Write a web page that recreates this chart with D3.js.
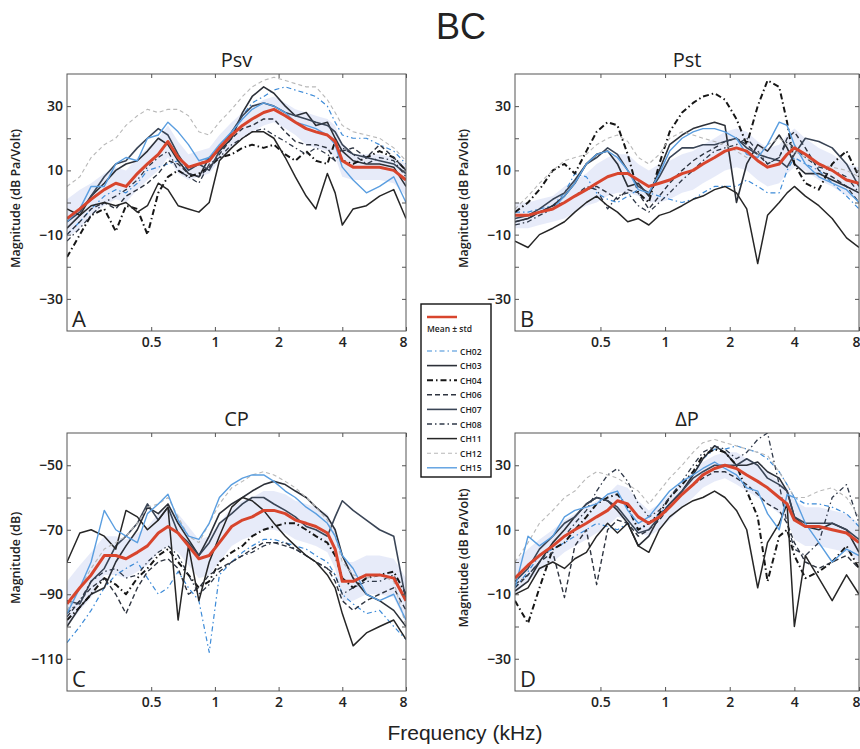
<!DOCTYPE html>
<html>
<head>
<meta charset="utf-8">
<script src="https://cdn.jsdelivr.net/npm/d3@7"></script>
<style>
  body { margin: 0; background: #fff; }
  svg { display: block; }
  text { font-family: "Open Sans", "DejaVu Sans", sans-serif; fill: #222; }
</style>
</head>
<body>
<svg id="chart" width="860" height="749"></svg>
<script>
// frequency grid (kHz)
const freqs = [0.2,0.23,0.26,0.3,0.34,0.38,0.43,0.48,0.54,0.6,0.67,0.75,0.84,0.94,1.05,1.2,1.35,1.5,1.7,1.9,2.15,2.4,2.7,3.0,3.4,3.7,4.0,4.5,5.2,6.0,7.0,8.0];
const xTicks = [0.5, 1, 2, 4, 8];
const channels = ['CH02','CH03','CH04','CH06','CH07','CH08','CH11','CH12','CH15'];

// A: Psv
const A_mean = [-5,-2,1,4,6,5,9,12,15,19,14,11,12,13,17,21,24,26,28,29,27,25,23,22,21,19,13,11,11,11,10,7];
const A_std  = [6,6,5,5,5,5,5,5,5,5,5,4,4,4,4,4,4,4,4,4,4,4,5,5,5,5,5,4,4,4,4,5];
const A_CH02 = [-10,-6,-2,2,4,3,6,10,11,12,13,10,12,14,17,22,27,31,33,35,36,35,34,33,30,25,21,20,20,18,16,12];
const A_CH03 = [-8,-4,2,6,10,12,13,16,20,18,13,9,8,14,16,20,28,33,36,34,30,27,28,24,25,20,16,13,12,12,11,5];
const A_CH04 = [-17,-10,-4,-2,-9,-1,-2,-10,3,8,10,8,9,11,14,15,17,18,17,18,15,13,16,13,12,19,13,12,14,16,14,10];
const A_CH06 = [-10,-6,-2,0,-2,2,4,6,9,13,12,9,8,11,15,20,23,24,26,26,22,19,18,18,17,13,16,17,14,18,14,10];
const A_CH07 = [-6,-3,2,8,12,13,17,20,23,21,15,10,12,10,16,22,27,30,31,30,28,27,26,25,24,22,18,15,14,13,12,9];
const A_CH08 = [-12,-8,-4,0,2,4,7,11,14,16,10,8,6,12,14,18,20,22,23,21,19,17,15,17,15,13,17,15,12,14,13,8];
const A_CH11 = [-2,-4,-1,0,-1,0,-3,-1,6,4,-1,-2,-3,0,13,17,20,22,22,20,14,8,2,-2,9,3,-7,-2,-1,2,4,-5];
const A_CH12 = [5,8,14,18,20,24,27,29,28,29,29,27,22,21,25,29,33,36,38,39,38,37,36,36,32,28,24,22,21,20,17,13];
const A_CH15 = [-6,-2,5,5,12,14,13,20,21,25,22,18,13,14,18,22,26,29,31,30,28,25,24,23,21,18,11,7,3,5,8,0];

// B: Pst
const B_mean = [-4,-4,-3,-2,0,2,4,6,8,9,9,7,5,6,7,9,10,12,14,16,17,16,13,11,12,15,17,15,12,10,7,6];
const B_std  = [4,4,4,4,5,5,5,6,6,6,6,5,5,6,6,6,6,6,6,6,6,6,6,6,6,6,6,5,5,5,5,5];
const B_CH02 = [-3,-3,-2,-1,3,9,8,3,1,0,2,4,3,2,1,0,1,3,5,5,5,7,5,3,3,10,14,12,10,6,2,-2];
const B_CH03 = [-6,-5,-3,-1,2,6,12,15,16,12,5,6,2,10,18,21,23,24,25,24,0,12,18,16,21,17,12,9,9,7,5,3];
const B_CH04 = [-3,0,4,10,12,9,16,22,25,24,15,3,0,12,22,28,31,33,34,32,26,18,30,38,36,25,12,6,4,12,16,8];
const B_CH06 = [-6,-5,-3,-1,0,2,4,5,3,1,4,3,-2,2,6,10,13,15,17,19,20,18,15,12,14,20,22,17,10,8,5,0];
const B_CH07 = [-5,-4,-2,1,3,7,12,14,17,15,10,5,3,8,14,17,17,18,18,19,20,17,15,14,13,11,15,20,19,17,12,5];
const B_CH08 = [-7,-6,-4,-2,0,2,5,4,-2,2,3,-1,-3,0,3,7,10,13,16,17,18,20,16,12,14,19,17,14,11,10,8,3];
const B_CH11 = [-12,-14,-10,-8,-6,-3,0,2,-1,-3,-6,-5,-7,-4,-3,-1,1,2,4,5,3,-2,-19,-4,0,3,5,2,-1,-5,-11,-14];
const B_CH12 = [-2,2,6,10,13,14,15,18,20,21,19,14,12,15,20,22,21,20,19,18,16,14,15,18,20,18,16,14,12,11,10,8];
const B_CH15 = [-4,-4,-3,-2,2,6,12,15,16,14,10,4,3,9,16,20,22,23,23,22,20,15,14,18,25,24,18,12,8,6,4,0];

// C: CP
const C_mean = [-93,-88,-84,-78,-78,-79,-77,-75,-71,-69,-71,-75,-79,-78,-74,-69,-67,-66,-64,-64,-65,-67,-68,-69,-71,-76,-86,-86,-84,-84,-85,-92];
const C_std  = [7,7,7,6,6,6,6,6,6,6,6,6,6,6,6,6,6,6,6,6,6,6,6,6,6,6,6,6,6,6,6,7];
const C_CH02 = [-105,-100,-95,-88,-84,-82,-80,-85,-90,-88,-83,-88,-92,-108,-84,-80,-77,-75,-73,-73,-74,-75,-76,-78,-80,-84,-90,-93,-96,-95,-100,-104];
const C_CH03 = [-100,-94,-90,-88,-80,-75,-70,-63,-65,-62,-68,-73,-78,-72,-65,-62,-60,-58,-56,-55,-56,-58,-60,-63,-66,-70,-78,-85,-90,-92,-95,-100];
const C_CH04 = [-98,-94,-90,-85,-87,-90,-85,-82,-78,-76,-80,-84,-88,-86,-80,-77,-75,-72,-70,-69,-68,-68,-70,-72,-74,-78,-85,-88,-85,-84,-83,-90];
const C_CH06 = [-97,-92,-88,-85,-90,-96,-88,-83,-80,-79,-82,-90,-88,-84,-82,-80,-78,-76,-74,-74,-75,-76,-78,-80,-82,-86,-92,-95,-92,-90,-88,-95];
const C_CH07 = [-92,-93,-86,-82,-75,-72,-68,-62,-67,-63,-71,-74,-78,-74,-68,-65,-62,-60,-60,-62,-64,-66,-69,-70,-72,-66,-61,-64,-67,-70,-72,-92];
const C_CH08 = [-96,-92,-86,-83,-82,-85,-84,-80,-77,-75,-78,-84,-90,-87,-83,-80,-78,-77,-75,-74,-74,-76,-78,-80,-82,-84,-90,-88,-86,-86,-84,-92];
const C_CH11 = [-80,-71,-70,-72,-76,-64,-66,-70,-67,-63,-98,-75,-92,-80,-72,-63,-60,-61,-64,-68,-72,-75,-78,-80,-84,-88,-96,-106,-102,-100,-98,-104];
const C_CH12 = [-95,-88,-82,-76,-74,-72,-68,-63,-62,-60,-66,-72,-74,-68,-62,-57,-55,-53,-52,-53,-55,-57,-60,-63,-67,-72,-80,-84,-85,-84,-86,-100];
const C_CH15 = [-96,-88,-80,-64,-70,-72,-74,-65,-62,-59,-67,-72,-73,-68,-60,-56,-54,-53,-53,-55,-58,-60,-63,-65,-68,-72,-78,-82,-90,-92,-90,-98];

// D: ΔP
const D_mean = [-5,-1,2,5,8,10,12,14,16,19,18,14,12,14,17,21,24,27,29,30,29,27,25,23,20,18,13,11,11,10,9,6];
const D_std  = [5,5,5,5,5,5,5,5,5,5,5,5,4,4,4,4,4,4,4,4,5,5,5,5,5,5,6,6,6,6,6,6];
const D_CH02 = [-8,-3,2,4,6,8,10,12,11,10,12,10,12,15,18,22,27,32,35,35,36,35,34,32,28,24,20,18,18,17,15,11];
const D_CH03 = [-9,-6,0,6,10,14,18,20,19,16,12,5,8,14,18,22,27,32,36,34,30,30,31,28,26,22,14,11,10,12,10,3];
const D_CH04 = [-12,-19,-8,4,6,10,14,18,20,21,17,10,12,15,20,24,28,33,35,34,30,22,14,-6,8,10,2,-5,-3,0,5,-2];
const D_CH06 = [-8,-4,0,3,-11,5,10,-7,10,13,12,8,10,13,17,21,24,26,28,28,26,24,21,18,16,12,6,0,-2,0,2,-2];
const D_CH07 = [-6,-2,4,8,12,14,18,20,19,17,13,9,10,14,18,22,26,28,30,30,30,32,30,26,24,22,14,12,12,12,10,7];
const D_CH08 = [-7,-4,0,5,8,12,16,22,27,29,25,18,14,16,20,25,30,34,36,35,32,34,38,40,24,12,4,2,6,20,24,12];
const D_CH11 = [-10,-8,-2,0,-2,1,3,8,12,9,12,5,3,10,14,17,19,20,22,20,16,10,-8,6,12,18,-20,2,-5,-12,-4,-10];
const D_CH12 = [0,6,12,16,20,22,26,28,27,26,24,22,18,22,26,30,34,37,38,37,36,35,34,33,28,24,20,20,22,23,20,14];
const D_CH15 = [-8,8,5,8,14,16,17,18,21,22,16,12,14,18,22,25,27,29,31,29,27,23,22,15,10,21,20,12,6,0,4,2];

const styles = {
  CH02: { color: '#3d8bd8', width: 1.2, dash: '5,3,1.5,3' },
  CH03: { color: '#2c3038', width: 1.6, dash: null },
  CH04: { color: '#161616', width: 2.0, dash: '6,3,1.5,3' },
  CH06: { color: '#2e3440', width: 1.4, dash: '5,3' },
  CH07: { color: '#3a4556', width: 1.6, dash: null },
  CH08: { color: '#2f3848', width: 1.3, dash: '5,3,1.5,3' },
  CH11: { color: '#262626', width: 1.5, dash: null },
  CH12: { color: '#b8b8b8', width: 1.1, dash: '4,3' },
  CH15: { color: '#5a9ee0', width: 1.4, dash: null }
};

const panels = [
  { title: 'Psv', letter: 'A', ylabel: 'Magnitude (dB Pa/Volt)', x0: 67, x1: 406, y0: 74, y1: 331,
    yDomain: [-40, 40], yTicks: [-30,-20,-10,0,10,20,30], yLabels: [-30,-10,10,30],
    mean: A_mean, std: A_std, series: [A_CH02,A_CH03,A_CH04,A_CH06,A_CH07,A_CH08,A_CH11,A_CH12,A_CH15] },
  { title: 'Pst', letter: 'B', ylabel: 'Magnitude (dB Pa/Volt)', x0: 515, x1: 859, y0: 74, y1: 331,
    yDomain: [-40, 40], yTicks: [-30,-20,-10,0,10,20,30], yLabels: [-30,-10,10,30],
    mean: B_mean, std: B_std, series: [B_CH02,B_CH03,B_CH04,B_CH06,B_CH07,B_CH08,B_CH11,B_CH12,B_CH15] },
  { title: 'CP', letter: 'C', ylabel: 'Magnitude (dB)', x0: 67, x1: 406, y0: 433, y1: 691,
    yDomain: [-120, -40], yTicks: [-110,-100,-90,-80,-70,-60,-50], yLabels: [-110,-90,-70,-50],
    mean: C_mean, std: C_std, series: [C_CH02,C_CH03,C_CH04,C_CH06,C_CH07,C_CH08,C_CH11,C_CH12,C_CH15] },
  { title: 'ΔP', letter: 'D', ylabel: 'Magnitude (dB Pa/Volt)', x0: 515, x1: 859, y0: 433, y1: 691,
    yDomain: [-40, 40], yTicks: [-30,-20,-10,0,10,20,30], yLabels: [-30,-10,10,30],
    mean: D_mean, std: D_std, series: [D_CH02,D_CH03,D_CH04,D_CH06,D_CH07,D_CH08,D_CH11,D_CH12,D_CH15] }
];

const svg = d3.select('#chart');
const fmt = d3.format('');

panels.forEach((p, pi) => {
  const x = d3.scaleLog().domain([0.2, 8]).range([p.x0, p.x1]);
  const y = d3.scaleLinear().domain(p.yDomain).range([p.y1, p.y0]);
  const g = svg.append('g');

  g.append('clipPath').attr('id', 'clip' + pi)
    .append('rect').attr('x', p.x0).attr('y', p.y0).attr('width', p.x1 - p.x0).attr('height', p.y1 - p.y0);
  const plot = g.append('g').attr('clip-path', `url(#clip${pi})`);

  const band = d3.area()
    .x((d, i) => x(freqs[i]))
    .y0((d, i) => y(p.mean[i] - p.std[i]))
    .y1((d, i) => y(p.mean[i] + p.std[i]));
  plot.append('path').datum(p.mean).attr('d', band)
    .attr('fill', '#e1e6f7').attr('opacity', 0.8);

  const line = d3.line().x((d, i) => x(freqs[i])).y(d => y(d));
  p.series.forEach((vals, k) => {
    const s = styles[channels[k]];
    plot.append('path').datum(vals).attr('d', line)
      .attr('fill', 'none').attr('stroke', s.color).attr('stroke-width', s.width)
      .attr('stroke-dasharray', s.dash).attr('stroke-linejoin', 'round');
  });
  plot.append('path').datum(p.mean).attr('d', line)
    .attr('fill', 'none').attr('stroke', '#d8452d').attr('stroke-width', 3).attr('stroke-linejoin', 'round');

  // axes: ticks pointing inward on all four sides
  const bottom = g.append('g').attr('transform', `translate(0,${p.y1})`)
    .call(d3.axisBottom(x).tickValues(xTicks).tickFormat(d3.format('~g')).tickSizeInner(-4).tickSizeOuter(0).tickPadding(6));
  g.append('g').attr('transform', `translate(0,${p.y0})`)
    .call(d3.axisTop(x).tickValues(xTicks).tickFormat('').tickSizeInner(-4).tickSizeOuter(0));
  const left = g.append('g').attr('transform', `translate(${p.x0},0)`)
    .call(d3.axisLeft(y).tickValues(p.yTicks).tickFormat(d => p.yLabels.includes(d) ? fmt(d) : '').tickSizeInner(-4).tickSizeOuter(0).tickPadding(4));
  g.append('g').attr('transform', `translate(${p.x1},0)`)
    .call(d3.axisRight(y).tickValues(p.yTicks).tickFormat('').tickSizeInner(-4).tickSizeOuter(0));
  g.selectAll('.domain').remove();
  g.selectAll('.tick line').attr('stroke', '#555');
  bottom.selectAll('text').style('font-size', '14px').style('font-weight', 600).attr('fill', '#222');
  // last label sits just left of the box corner
  bottom.selectAll('.tick').filter(d => d === 8).select('text').attr('text-anchor', 'end').attr('dx', 1);
  left.selectAll('text').style('font-size', '14px').style('font-weight', 600).attr('fill', '#222');

  g.append('rect').attr('x', p.x0).attr('y', p.y0).attr('width', p.x1 - p.x0).attr('height', p.y1 - p.y0)
    .attr('fill', 'none').attr('stroke', '#555').attr('stroke-width', 1);

  g.append('text').attr('x', (p.x0 + p.x1) / 2).attr('y', p.y0 - 7)
    .attr('text-anchor', 'middle').style('font-size', '20px').style('font-weight', 500).text(p.title);
  g.append('text').attr('x', p.x0 + 5).attr('y', p.y1 - 4)
    .style('font-size', '22px').text(p.letter);
  g.append('text')
    .attr('transform', `translate(${p.x0 - 47},${(p.y0 + p.y1) / 2 - 4}) rotate(-90)`)
    .attr('text-anchor', 'middle').style('font-size', '12.5px').style('font-weight', 600).text(p.ylabel);
});

svg.append('text').attr('x', 461).attr('y', 39).attr('text-anchor', 'middle')
  .style('font-family', '"Liberation Sans", Arial, sans-serif').style('font-size', '36px').text('BC');
svg.append('text').attr('x', 465).attr('y', 740).attr('text-anchor', 'middle')
  .style('font-family', '"Liberation Sans", Arial, sans-serif').style('font-size', '21px').text('Frequency (kHz)');

// legend
const lg = svg.append('g');
lg.append('rect').attr('x', 421).attr('y', 304).attr('width', 70).attr('height', 173)
  .attr('fill', '#fff').attr('stroke', '#111').attr('stroke-width', 1.4);
lg.append('line').attr('x1', 427).attr('x2', 457).attr('y1', 317).attr('y2', 317)
  .attr('stroke', '#d8452d').attr('stroke-width', 2.5);
lg.append('text').attr('x', 427).attr('y', 332).style('font-size', '8.5px').style('font-weight', 600).text('Mean ± std');
channels.forEach((c, i) => {
  const s = styles[c];
  const yy = 351 + i * 14.6;
  lg.append('line').attr('x1', 427).attr('x2', 457).attr('y1', yy).attr('y2', yy)
    .attr('stroke', s.color).attr('stroke-width', s.width).attr('stroke-dasharray', s.dash);
  lg.append('text').attr('x', 460).attr('y', yy + 3.5).style('font-size', '8.5px').style('font-weight', 600).text(c);
});
</script>
</body>
</html>
